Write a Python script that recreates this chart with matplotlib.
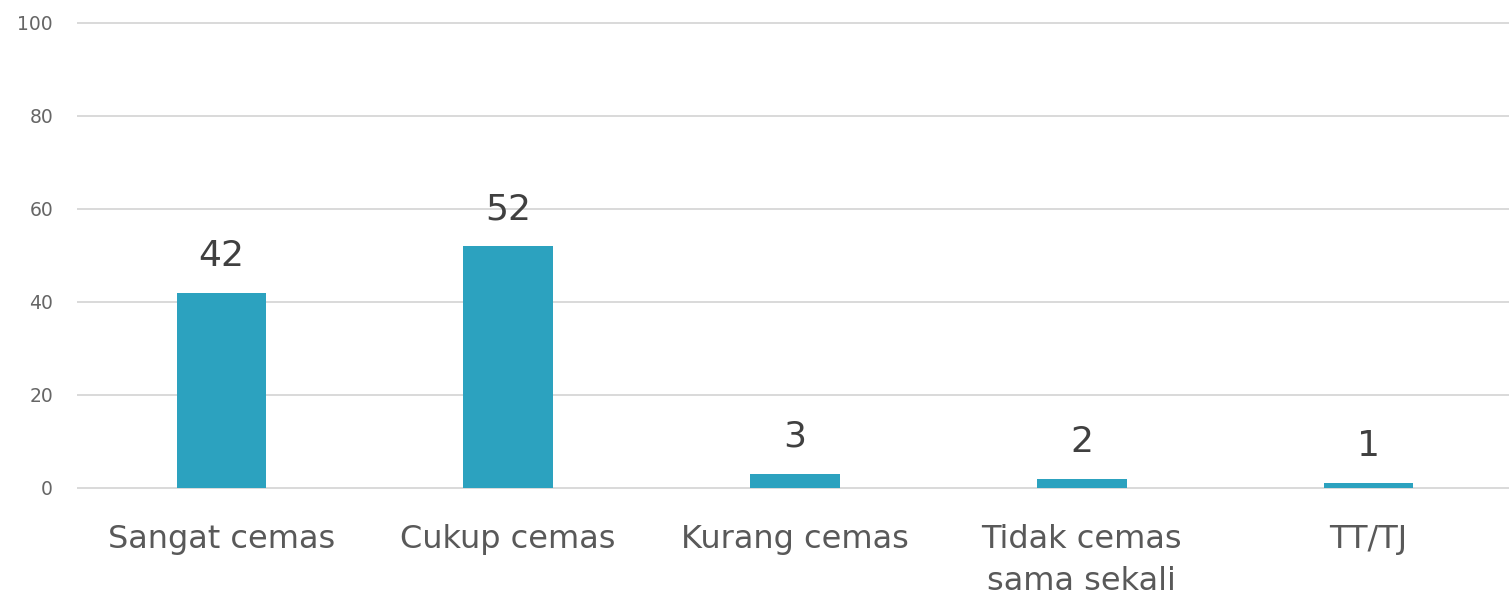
import matplotlib.pyplot as plt

# ========================== Data ==========================
categories = ["Sangat cemas", "Cukup cemas", "Kurang cemas", "Tidak cemas\nsama sekali", "TT/TJ"]
values = [42, 52, 3, 2, 1]
yticks = [0, 20, 40, 60, 80, 100]

BAR_COLOR = "#2ca2bf"
GRID_COLOR = "#d9d9d9"

fig = plt.figure(figsize=(15.09, 6.08), dpi=100)
ax = fig.add_axes([0.0517, 0.1974, 0.9483, 0.7648])

x = range(len(categories))
bars = ax.bar(x, values, width=0.313, color=BAR_COLOR, zorder=3)

for xi, v in zip(x, values):
    ax.annotate(str(v), (xi, v), xytext=(0, 19.5), textcoords="offset points",
                ha="center", va="baseline", fontsize=26, color="#404040")

ax.set_xlim(-0.5, 4.49)
ax.set_ylim(0, 100)
ax.set_yticks(yticks)
ax.set_xticks(list(x))
ax.set_xticklabels(categories, fontsize=23, color="#595959", linespacing=1.45)
ax.tick_params(axis="x", length=0, pad=26)
ax.tick_params(axis="y", length=0, pad=18, labelsize=13.5, labelcolor="#666666")

ax.grid(axis="y", color=GRID_COLOR, linewidth=1.4, zorder=0)
for gl in ax.get_ygridlines():
    gl.set_clip_on(False)
for s in ax.spines.values():
    s.set_visible(False)

fig.savefig("out.png", dpi=100)
plt.close(fig)
